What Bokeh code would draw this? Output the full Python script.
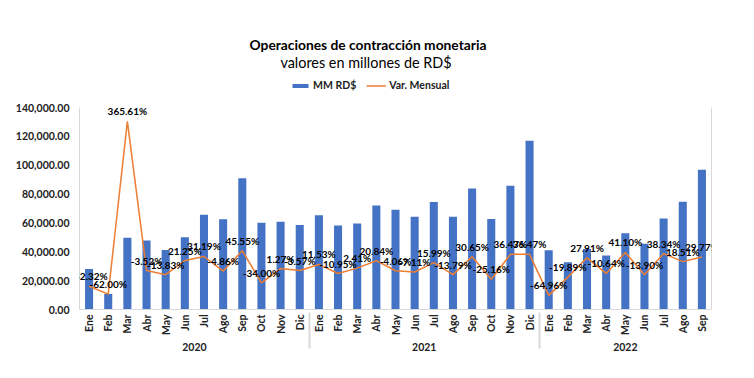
from bokeh.plotting import figure
from bokeh.models import (FactorRange, Range1d, LinearAxis, ColumnDataSource, LabelSet, Label,
                          Legend, LegendItem, NumeralTickFormatter, FixedTicker)
from bokeh.core.properties import value
from bokeh.embed import file_html
from bokeh.resources import INLINE

months = ["Ene", "Feb", "Mar", "Abr", "May", "Jun", "Jul", "Ago", "Sep", "Oct", "Nov", "Dic"]
years = ["2020"] * 12 + ["2021"] * 12 + ["2022"] * 9
month_labels = months + months + months[:9]

mm_rd = [28100, 10700, 49700, 47900, 41300, 50100, 65700, 62500, 91000, 60100, 60800, 58600,
         65400, 58200, 59600, 72000, 69100, 64200, 74500, 64200, 83900, 62800, 85700, 117000,
         41000, 32800, 42000, 37500, 52900, 45500, 63000, 74700, 96900]
var_mensual = [-42.32, -62.00, 365.61, -3.52, -13.83, 21.25, 31.19, -4.86, 45.55, -34.00, 1.27, -3.57,
               11.53, -10.95, 2.41, 20.84, -4.06, -7.11, 15.99, -13.79, 30.65, -25.16, 36.47, 36.47,
               -64.96, -19.89, 27.91, -10.64, 41.10, -13.90, 38.34, 18.51, 29.77]
y_ticks = [0, 20000, 40000, 60000, 80000, 100000, 120000, 140000]

FONT = "Lato"
x = list(zip(years, month_labels))
src = ColumnDataSource(dict(x=x, mm=mm_rd, var=var_mensual,
                            lbl=[f"{v:.2f}%" for v in var_mensual]))

W, H = 736, 360
BL, BR, BB = 79, 25, 51
FRAME_H = H - BB          # frame runs from the top of the figure to the x axis
PLOT_H = 202              # height of the visible value area (0 .. 140,000)
Y_MAX, P_MIN, P_MAX = 140000, -100, 400
y_end = Y_MAX * FRAME_H / PLOT_H
p_end = P_MIN + (P_MAX - P_MIN) * FRAME_H / PLOT_H

p = figure(x_range=FactorRange(*x, factor_padding=0, group_padding=0, range_padding=0),
           y_range=Range1d(0, y_end), width=W, height=H,
           output_backend="svg", toolbar_location=None,
           min_border_left=BL, min_border_right=BR, min_border_top=0, min_border_bottom=BB)
p.extra_y_ranges = {"pct": Range1d(P_MIN, p_end)}
p.outline_line_color = None
p.xgrid.visible = False
p.ygrid.visible = False

bars = p.vbar(x="x", top="mm", width=0.42, source=src, fill_color="#4472C4", line_color=None)
line = p.line(x="x", y="var", source=src, y_range_name="pct", line_color="#ED7D31", line_width=1.5)

labels = LabelSet(x="x", y="var", text="lbl", source=src, y_range_name="pct",
                  text_align="center", text_baseline="bottom", y_offset=4,
                  text_font=value(FONT), text_font_size="10px", text_font_style="bold",
                  text_color="black")
p.add_layout(labels)

ya = p.yaxis[0]
ya.ticker = FixedTicker(ticks=y_ticks)
ya.bounds = (0, Y_MAX)
ya.formatter = NumeralTickFormatter(format="0,0.00")
ya.major_tick_line_color = None
ya.minor_tick_line_color = None
ya.major_tick_out = 0
ya.axis_line_color = "#d9d9d9"
ya.major_label_text_font = FONT
ya.major_label_text_font_size = "10.5px"
ya.major_label_text_font_style = "bold"
ya.major_label_text_color = "#222222"
ya.major_label_standoff = 10

ra = LinearAxis(y_range_name="pct", ticker=FixedTicker(ticks=[]), bounds=(P_MIN, P_MAX),
                major_tick_line_color=None, minor_tick_line_color=None,
                major_tick_out=0, major_label_standoff=0,
                axis_line_color="#d9d9d9")
p.add_layout(ra, "right")

xa = p.xaxis[0]
xa.axis_line_color = "#d9d9d9"
xa.major_tick_line_color = None
xa.minor_tick_line_color = None
xa.major_tick_out = 0
xa.major_label_standoff = 5
xa.major_label_orientation = 1.5708
xa.major_label_text_font = FONT
xa.major_label_text_font_size = "10.5px"
xa.major_label_text_font_style = "bold"
xa.major_label_text_color = "#222222"
xa.group_text_font = FONT
xa.group_text_font_size = "10.5px"
xa.group_text_color = "#222222"
xa.separator_line_color = "#d9d9d9"

legend = Legend(items=[LegendItem(label="MM RD$", renderers=[bars]),
                       LegendItem(label="Var. Mensual", renderers=[line])],
                orientation="horizontal", location=(211, FRAME_H - 85 - 6),
                glyph_width=20, glyph_height=5, spacing=10, padding=0, margin=0,
                label_standoff=3,
                label_text_font=FONT, label_text_font_size="10.5px", label_text_font_style="bold",
                label_text_color="#222222", border_line_color=None, background_fill_alpha=0)
p.add_layout(legend)

p.add_layout(Label(x=288.5, y=FRAME_H - 44, x_units="screen", y_units="screen",
                   text="Operaciones de contracción monetaria", text_align="center",
                   text_baseline="middle", text_font=FONT, text_font_size="13.8px",
                   text_font_style="bold", text_color="black"))
p.add_layout(Label(x=286.5, y=FRAME_H - 62, x_units="screen", y_units="screen",
                   text="valores en millones de RD$", text_align="center",
                   text_baseline="middle", text_font=FONT, text_font_size="14.4px",
                   text_font_style="normal", text_color="black"))

open("out.html", "w").write(file_html(p, INLINE))
